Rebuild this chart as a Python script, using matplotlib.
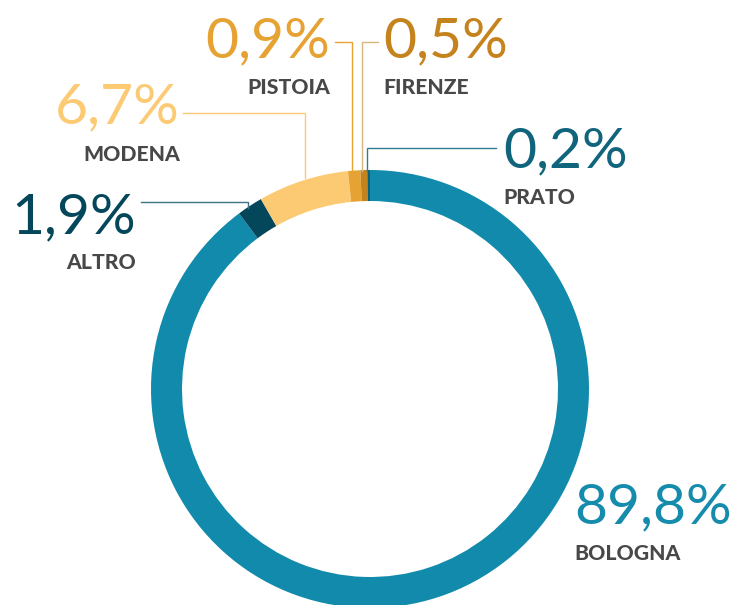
import matplotlib
matplotlib.use("Agg")
import matplotlib.pyplot as plt

# data (clockwise from 12 o'clock)
regions = ["BOLOGNA", "ALTRO", "MODENA", "PISTOIA", "FIRENZE", "PRATO"]
shares = [89.8, 1.9, 6.7, 0.9, 0.5, 0.2]
pct_labels = ["89,8%", "1,9%", "6,7%", "0,9%", "0,5%", "0,2%"]

seg_colors = ["#118aab", "#04475a", "#fdca74", "#e6a232", "#c5831e", "#0e6078"]
txt_colors = ["#168cad", "#04475a", "#fdca74", "#e6a232", "#c5831e", "#10647c"]
line_colors = [None, "#3d7383", "#fdca74", "#e6a232", "#d9b47c", "#2e7d93"]

W, H = 737, 605
def Y(y):
    return H - y

fig = plt.figure(figsize=(W / 100, H / 100), dpi=100)
ax = fig.add_axes([0, 0, 1, 1])

ax.pie(shares, colors=seg_colors, startangle=90, counterclock=False,
       radius=219, center=(370, Y(389)),
       wedgeprops=dict(width=31, linewidth=0.3, edgecolor="none"))

ax.set_xlim(0, W)
ax.set_ylim(0, H)
ax.set_aspect("equal")
ax.axis("off")

# label layout: (x, number baseline, name baseline, alignment)
layout = {
    "BOLOGNA": (574, 523, 560, "left"),
    "ALTRO": (136, 233, 269, "right"),
    "MODENA": (180, 123, 161, "right"),
    "PISTOIA": (330, 57, 94, "right"),
    "FIRENZE": (383, 57, 94, "left"),
    "PRATO": (503, 167, 204, "left"),
}
leaders = {
    "ALTRO": ([141, 248, 248], [202, 202, 208]),
    "MODENA": ([183, 305, 305], [113, 113, 178]),
    "PISTOIA": ([335, 352, 352], [42, 42, 172]),
    "FIRENZE": ([378, 362, 362], [42, 42, 171]),
    "PRATO": ([496, 367, 367], [148, 148, 171]),
}

for i, name in enumerate(regions):
    x, yn, yl, ha = layout[name]
    ax.text(x, Y(yn), pct_labels[i], color=txt_colors[i], fontsize=41,
            fontfamily="Lato", fontweight="normal", ha=ha, va="baseline")
    ax.text(x, Y(yl), name, color="#484848", fontsize=15.2,
            fontfamily="Lato", fontweight="black", ha=ha, va="baseline")
    if name in leaders:
        xs, ys = leaders[name]
        ax.plot(xs, [Y(v) for v in ys], color=line_colors[i], lw=1.0,
                solid_joinstyle="miter")

fig.savefig("out.png", dpi=100)
